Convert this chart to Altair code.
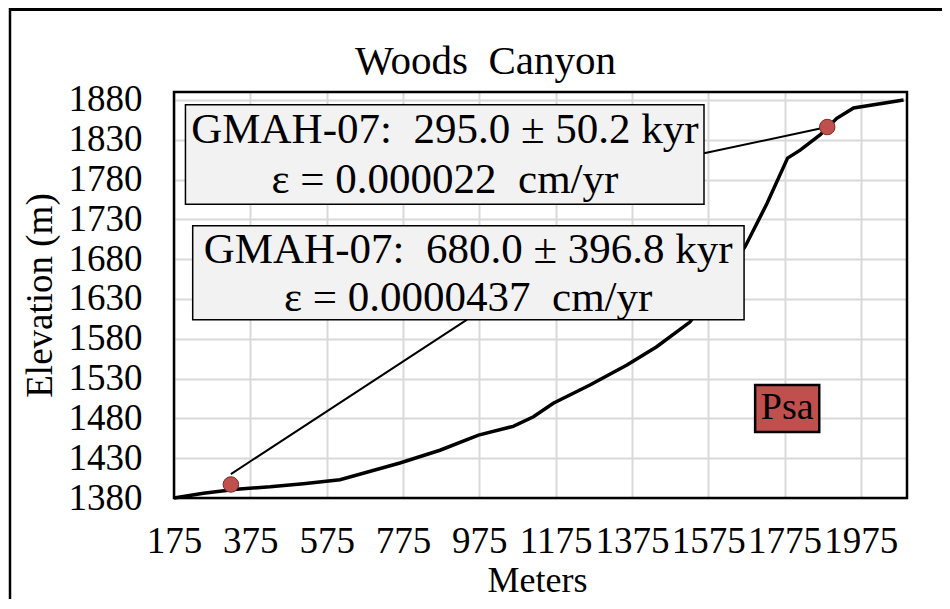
import altair as alt
import pandas as pd

FONT = "Liberation Serif"

# ---- data ----
dist = [175, 252, 339, 427, 514, 610, 767, 872, 973, 1064, 1117, 1169, 1265,
        1362, 1440, 1527, 1601, 1672, 1729, 1783, 1816, 1868, 1912, 1956, 2087]
elev = [1380, 1386, 1391, 1394, 1398, 1403, 1424, 1440, 1459, 1470, 1482, 1499,
        1522, 1547, 1570, 1601, 1648, 1696, 1750, 1807, 1817, 1836, 1857, 1870, 1880]

sample_x = [324, 1887]
sample_y = [1397, 1846]

x_ticks = [175, 375, 575, 775, 975, 1175, 1375, 1575, 1775, 1975]
y_ticks = [1380, 1430, 1480, 1530, 1580, 1630, 1680, 1730, 1780, 1830, 1880]

box_lines = [
    ["GMAH-07:\u00a0 295.0 \u00b1 50.2 kyr", "\u03b5 = 0.000022\u00a0 cm/yr"],
    ["GMAH-07:\u00a0 680.0 \u00b1 396.8 kyr", "\u03b5 = 0.0000437\u00a0 cm/yr"],
]
unit_label = "Psa"
chart_title = "Woods\u00a0 Canyon"

# ---- annotation placement (data coordinates) ----
boxes = pd.DataFrame({
    "x": [205, 224], "x2": [1564, 1669],
    "y": [1749, 1604], "y2": [1874, 1722],
})
box_text = pd.DataFrame({
    "x": [885, 885, 946, 946],
    "y": [1842, 1780, 1692, 1631],
    "t": [box_lines[0][0], box_lines[0][1], box_lines[1][0], box_lines[1][1]],
})
leaders = pd.DataFrame({
    "x": [1564, sample_x[0]], "y": [1813, 1410],
    "x2": [sample_x[1], 943], "y2": [sample_y[1], 1604],
})
psa_box = pd.DataFrame({"x": [1698], "x2": [1866], "y": [1463], "y2": [1522]})
psa_text = pd.DataFrame({"x": [1782], "y": [1493], "t": [unit_label]})

profile = pd.DataFrame({"x": dist, "y": elev})
samples = pd.DataFrame({"x": sample_x, "y": sample_y})

W, H = 733, 406

xscale = alt.Scale(domain=[175, 2096], nice=False, zero=False)
yscale = alt.Scale(domain=[1380, 1890], nice=False, zero=False)

xaxis = alt.Axis(values=x_ticks, format="d", title="Meters", grid=True,
                 gridColor="#D9D9D9", gridWidth=2, domain=False, ticks=False,
                 tickSize=0, labelFont=FONT, labelFontSize=37, labelColor="black",
                 labelPadding=25, labelOverlap=False, labelFlush=False,
                 titleFont=FONT, titleFontSize=36, titleFontWeight="normal",
                 titleColor="black", titleX=363, titleY=93,
                 titleBaseline="alphabetic", titleAlign="center")
yaxis = alt.Axis(values=y_ticks, format="d", title="Elevation (m)", grid=True,
                 gridColor="#D9D9D9", gridWidth=2, domain=False, ticks=False,
                 tickSize=0, labelFont=FONT, labelFontSize=37, labelColor="black",
                 labelPadding=32, labelOverlap=False, labelFlush=False,
                 titleFont=FONT, titleFontSize=37, titleFontWeight="normal",
                 titleColor="black", titleAngle=270, titleX=-134, titleY=203,
                 titleBaseline="middle", titleAlign="center")

X = alt.X("x:Q", scale=xscale, axis=xaxis)
Y = alt.Y("y:Q", scale=yscale, axis=yaxis)

line = alt.Chart(profile).mark_line(color="black", strokeWidth=3.5).encode(
    x=X, y=Y, order="x:Q")

lead = alt.Chart(leaders).mark_rule(color="black", strokeWidth=2).encode(
    x=X, y=Y, x2="x2:Q", y2="y2:Q")

dots = alt.Chart(samples).mark_point(filled=True, fill="#C0504D", stroke="#7A2B28",
                                     strokeWidth=1, size=240, opacity=1,
                                     shape="circle").encode(x=X, y=Y)

box = alt.Chart(boxes).mark_rect(fill="#F2F2F2", stroke="black",
                                 strokeWidth=1.5).encode(
    x=X, x2="x2:Q", y=Y, y2="y2:Q")

btext = alt.Chart(box_text).mark_text(font=FONT, fontSize=43, color="black",
                                      align="center", baseline="middle").encode(
    x=X, y=Y, text="t:N")

pbox = alt.Chart(psa_box).mark_rect(fill="#C0504D", stroke="black",
                                    strokeWidth=2.5).encode(
    x=X, x2="x2:Q", y=Y, y2="y2:Q")
ptext = alt.Chart(psa_text).mark_text(font=FONT, fontSize=38, color="black",
                                      align="center", baseline="middle").encode(
    x=X, y=Y, text="t:N")

one = pd.DataFrame({"a": [0]})
border = alt.Chart(one).mark_rect(fillOpacity=0, stroke="black",
                                  strokeWidth=2.5).encode(
    x=alt.value(0), x2=alt.value(W), y=alt.value(0), y2=alt.value(H))
frame_left = alt.Chart(one).mark_rule(color="black", strokeWidth=2.5).encode(
    x=alt.value(-164), y=alt.value(-84), y2=alt.value(H + 105))
frame_top = alt.Chart(one).mark_rule(color="black", strokeWidth=3).encode(
    x=alt.value(-165), x2=alt.value(W + 40), y=alt.value(-82.5))

chart = alt.layer(line, lead, dots, box, btext, pbox, ptext, border,
                  frame_left, frame_top).properties(
    width=W, height=H,
    title=alt.TitleParams(chart_title, font=FONT, fontSize=41,
                          fontWeight="normal", color="black", anchor="middle",
                          frame="group", baseline="alphabetic",
                          dx=-55, offset=-108),
    autosize=alt.AutoSizeParams(type="none"),
    padding={"left": 166, "top": 84, "right": 35, "bottom": 101},
).configure_view(stroke=None).configure(background="white")

chart.save("out.html", embed_options={"renderer": "svg", "actions": False})
